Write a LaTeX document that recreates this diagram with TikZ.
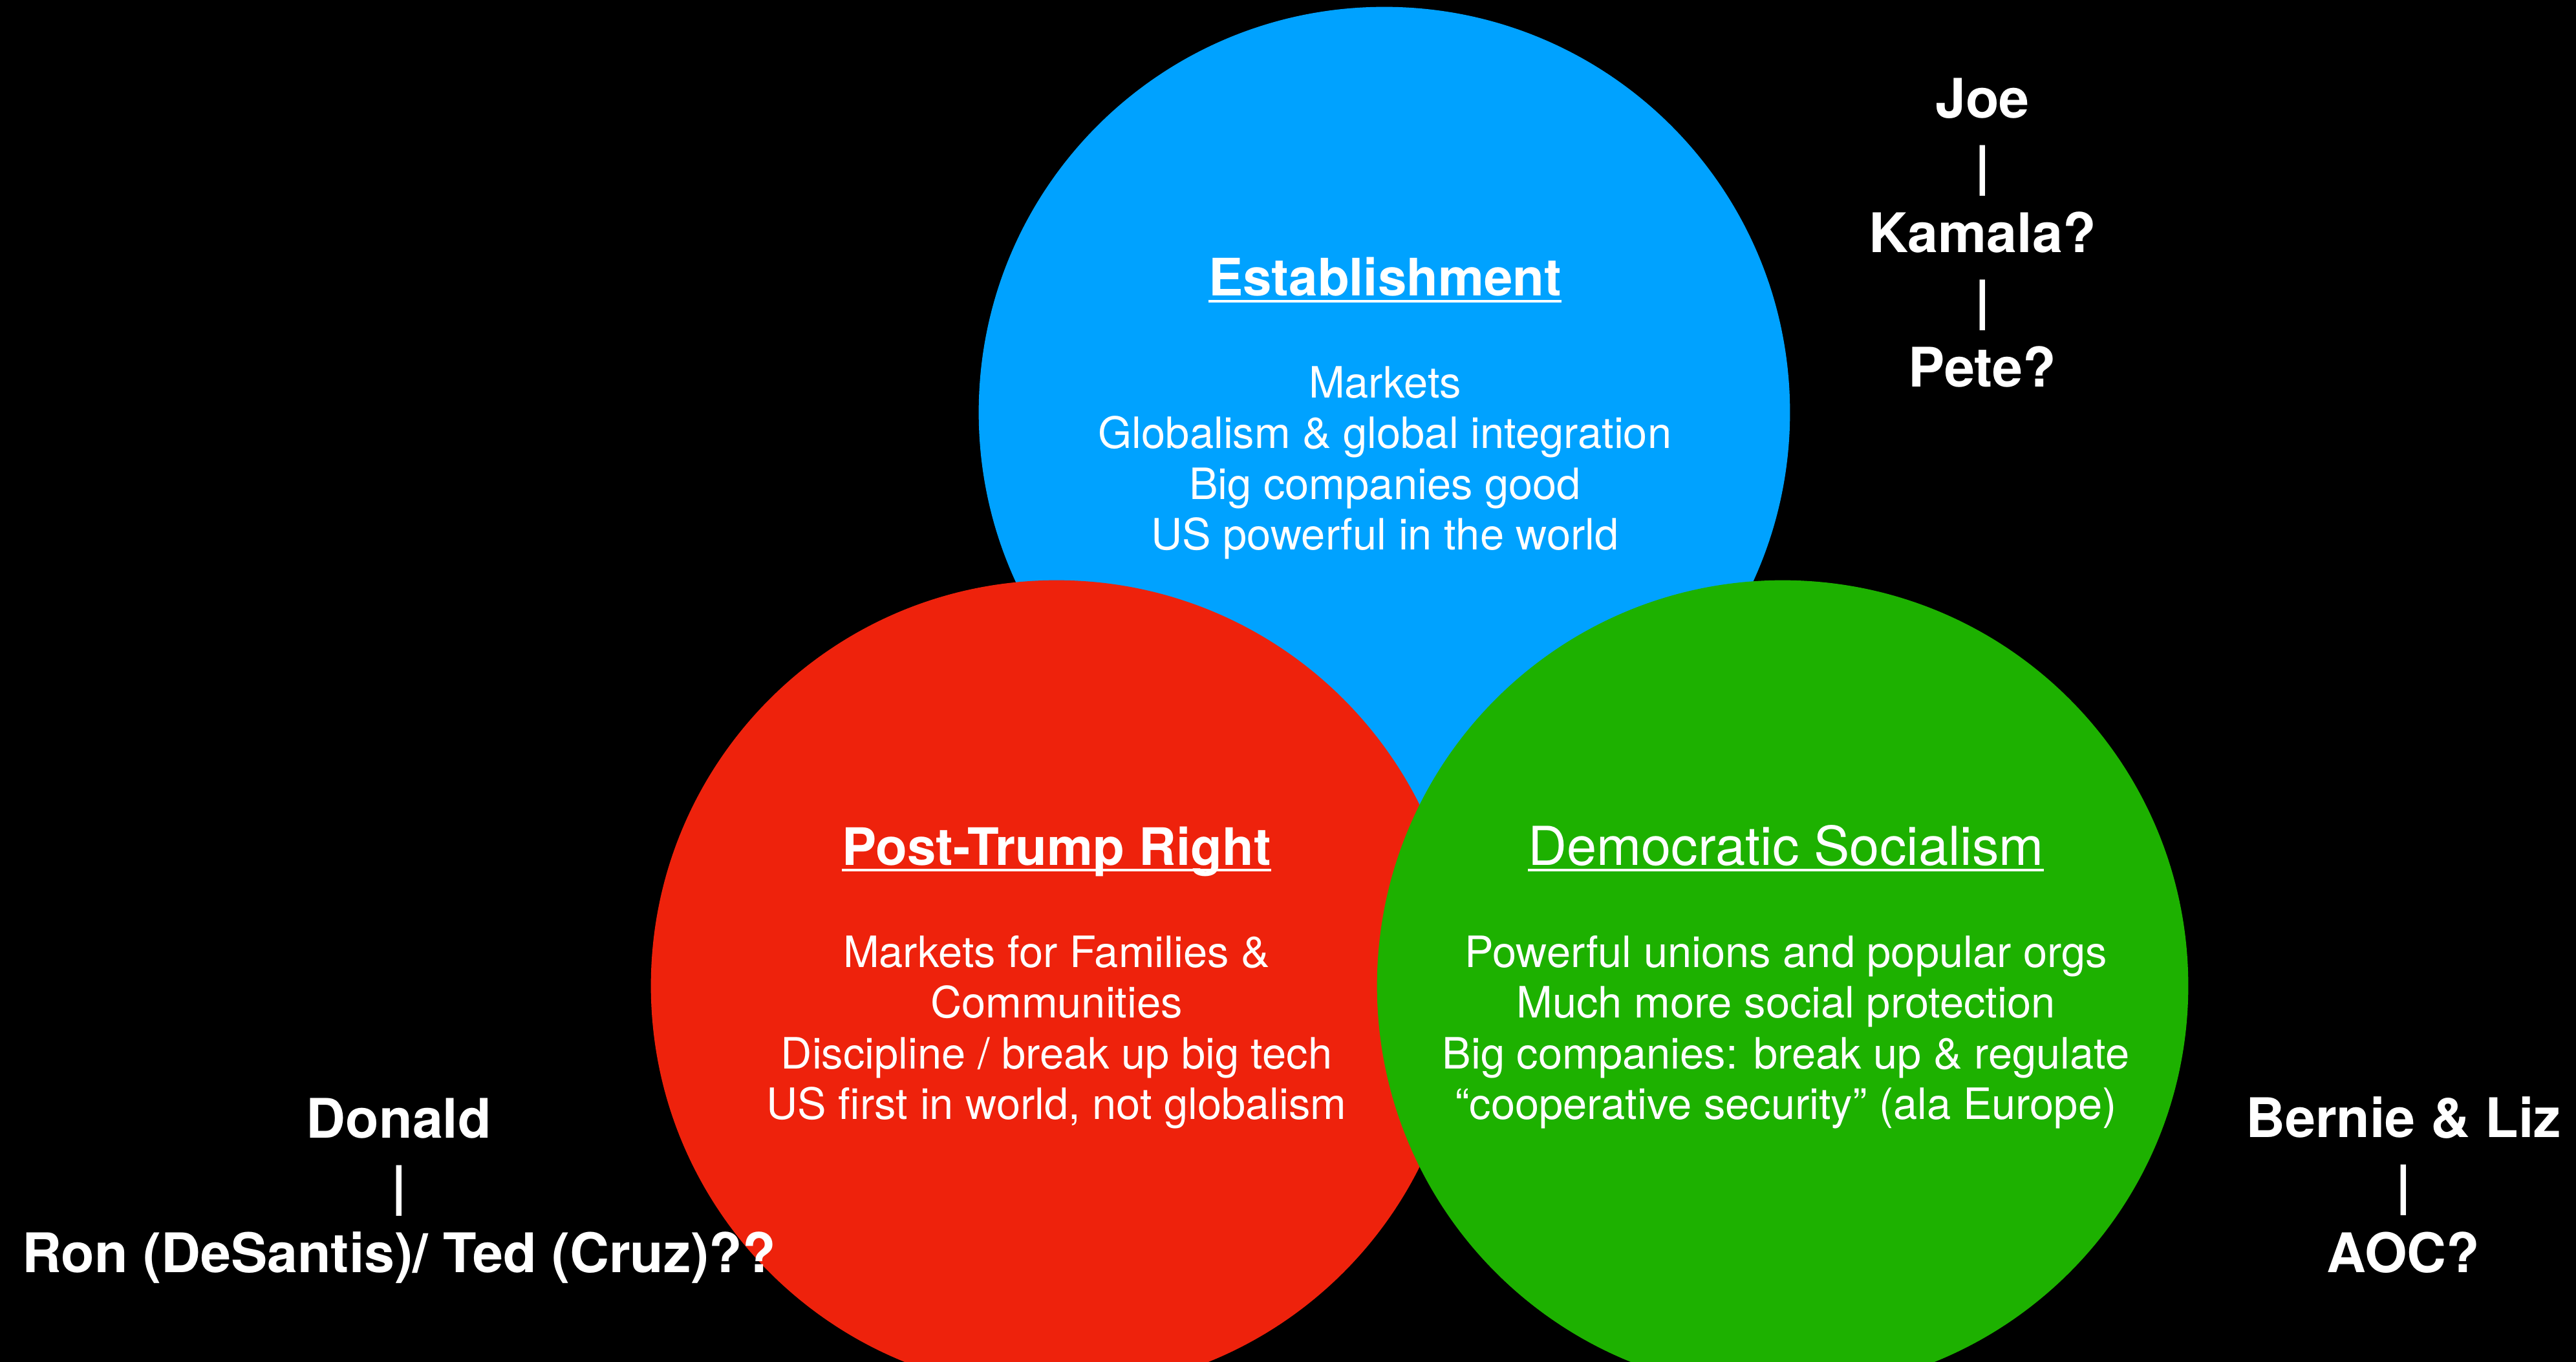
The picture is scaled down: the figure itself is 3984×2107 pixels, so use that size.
\documentclass[tikz,border=0pt]{standalone}
\usepackage{fontspec}
\setmainfont{TeX Gyre Heros}
\definecolor{estblue}{HTML}{00A2FF}
\definecolor{rightred}{HTML}{EE220C}
\definecolor{socgreen}{HTML}{1DB100}
\newsavebox\headbox
\newcommand{\headline}[1]{\sbox\headbox{#1}\rlap{\rule[-0.125em]{\wd\headbox}{0.05em}}\usebox\headbox}
\begin{document}
\begin{tikzpicture}[x=0.01cm, y=-0.01cm,
    bubble/.style={circle, minimum size=12.54cm, inner sep=0pt},
    head/.style={text=white, anchor=base, font=\fontsize{22.7}{27}\selectfont\bfseries},
    points/.style={text=white, align=center, font=\fontsize{19}{22.3}\selectfont},
    names/.style={text=white, align=center, font=\fontsize{24}{29.6}\selectfont\bfseries}]
    \useasboundingbox (0,0) rectangle (3984,2107);
    \clip (0,0) rectangle (3984,2107);
    \fill[black] (0,0) rectangle (3984,2107);
    \node[bubble, fill=estblue] (est) at (2141,638) {};
    \node[bubble, fill=rightred] (right) at (1634,1525) {};
    \node[bubble, fill=socgreen] (soc) at (2757,1525) {};
    \node[head] (estHead) at (2142,458) {\headline{Establishment}};
    \node[points] (estText) at (2142,716) {Markets\\Globalism \& global integration\\Big companies good\\US powerful in the world};
    \node[head] (rightHead) at (1634,1338) {\headline{Post-Trump Right}};
    \node[points] (rightText) at (1634,1597) {Markets for Families \&\\Communities\\Discipline / break up big tech\\US first in world, not globalism};
    \node[head, font=\fontsize{23.6}{27}\selectfont] (socHead) at (2762,1338) {\headline{Democratic Socialism}};
    \node[points] (socText) at (2762,1597) {Powerful unions and popular orgs\\Much more social protection\\Big companies: break up \& regulate\\“cooperative security” (ala Europe)};
    \node[names] (estNames) at (3066,360) {Joe\\|\\Kamala?\\|\\Pete?};
    \node[names] (rightNames) at (617,1842) {Donald\\|\\Ron (DeSantis)/ Ted (Cruz)??};
    \node[names] (socNames) at (3717,1833) {Bernie \& Liz\\|\\AOC?};
\end{tikzpicture}
\end{document}
